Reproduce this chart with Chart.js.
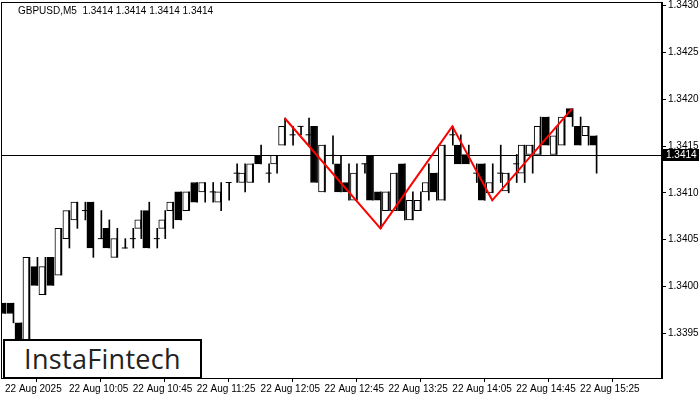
<!DOCTYPE html>
<html><head><meta charset="utf-8">
<script src="https://cdn.jsdelivr.net/npm/chart.js@4"></script>
<style>
html,body{margin:0;padding:0;background:#fff;overflow:hidden;}
#wrap{position:relative;width:700px;height:400px;overflow:hidden;}
#c{position:absolute;left:-4px;top:-6px;}
#logo{position:absolute;left:3px;top:339px;width:195px;height:36px;border:2px solid #000;background:#fff;font-family:"Open Sans",sans-serif;font-size:27px;line-height:36px;text-align:center;color:#222;letter-spacing:0.3px;}
#title{position:absolute;left:18px;top:5px;font:10px "Liberation Sans",sans-serif;color:#000;white-space:pre;}
</style></head><body>
<div id="wrap"><canvas id="c" width="704" height="406"></canvas><div id="logo">InstaFintech</div><div id="title"></div></div>
<script>
const timeLabels=["22 Aug 2025","22 Aug 10:05","22 Aug 10:45","22 Aug 11:25","22 Aug 12:05","22 Aug 12:45","22 Aug 13:25","22 Aug 14:05","22 Aug 14:45","22 Aug 15:25"];
const opens=[1.33982,1.33982,1.33961,1.33932,1.34021,1.33991,1.34031,1.34012,1.34051,1.34071,1.34081,1.34090,1.34051,1.34062,1.34031,1.34041,1.34051,1.34062,1.34081,1.34051,1.34062,1.34081,1.34101,1.34081,1.34111,1.34101,1.34101,1.34090,1.34111,1.34121,1.34111,1.34111,1.34140,1.34121,1.34131,1.34151,1.34162,1.34171,1.34162,1.34171,1.34101,1.34140,1.34131,1.34111,1.34092,1.34131,1.34140,1.34101,1.34081,1.34081,1.34131,1.34071,1.34081,1.34101,1.34121,1.34092,1.34162,1.34151,1.34141,1.34121,1.34131,1.34100,1.34121,1.34102,1.34131,1.34121,1.34141,1.34141,1.34181,1.34141,1.34151,1.34190,1.34171,1.34161,1.34161];
const highs=[1.33982,1.33982,1.33961,1.34031,1.34031,1.34031,1.34031,1.34062,1.34081,1.34090,1.34090,1.34090,1.34081,1.34071,1.34062,1.34051,1.34062,1.34081,1.34090,1.34062,1.34081,1.34090,1.34101,1.34101,1.34111,1.34111,1.34111,1.34111,1.34111,1.34131,1.34131,1.34131,1.34151,1.34131,1.34140,1.34180,1.34171,1.34171,1.34180,1.34171,1.34151,1.34161,1.34140,1.34131,1.34131,1.34131,1.34140,1.34101,1.34101,1.34121,1.34131,1.34101,1.34101,1.34131,1.34121,1.34151,1.34171,1.34162,1.34151,1.34131,1.34131,1.34131,1.34151,1.34121,1.34141,1.34151,1.34151,1.34181,1.34181,1.34171,1.34181,1.34190,1.34181,1.34171,1.34161];
const lows=[1.33971,1.33961,1.33925,1.33925,1.34001,1.33991,1.34001,1.34012,1.34041,1.34062,1.34071,1.34031,1.34051,1.34041,1.34031,1.34041,1.34041,1.34051,1.34041,1.34041,1.34051,1.34062,1.34071,1.34081,1.34090,1.34090,1.34090,1.34081,1.34092,1.34111,1.34101,1.34111,1.34131,1.34111,1.34121,1.34151,1.34151,1.34162,1.34151,1.34111,1.34101,1.34131,1.34101,1.34092,1.34092,1.34121,1.34092,1.34062,1.34081,1.34081,1.34071,1.34071,1.34081,1.34092,1.34092,1.34092,1.34151,1.34131,1.34131,1.34111,1.34092,1.34100,1.34111,1.34100,1.34111,1.34111,1.34121,1.34141,1.34151,1.34141,1.34151,1.34171,1.34151,1.34151,1.34121];
const closes=[1.33971,1.33971,1.33932,1.34031,1.34001,1.34021,1.34001,1.34062,1.34081,1.34090,1.34081,1.34041,1.34051,1.34041,1.34051,1.34041,1.34051,1.34071,1.34041,1.34051,1.34071,1.34090,1.34071,1.34101,1.34090,1.34111,1.34101,1.34101,1.34111,1.34121,1.34121,1.34131,1.34131,1.34121,1.34140,1.34171,1.34162,1.34171,1.34162,1.34111,1.34151,1.34140,1.34101,1.34101,1.34121,1.34131,1.34092,1.34092,1.34101,1.34121,1.34081,1.34092,1.34092,1.34111,1.34101,1.34151,1.34162,1.34131,1.34131,1.34121,1.34092,1.34111,1.34121,1.34121,1.34131,1.34151,1.34151,1.34171,1.34151,1.34161,1.34181,1.34181,1.34151,1.34171,1.34151];
const patternIdx=[35,47,56,61,71];
const patternVals=[1.34180,1.34062,1.34171,1.34092,1.34190];
const yTicks=[1.3395,1.3400,1.3405,1.3410,1.3415,1.3420,1.3425,1.3430];
const currentPrice=1.3414;
const title="GBPUSD,M5  1.3414 1.3414 1.3414 1.3414";
document.getElementById('title').textContent=title;

const wicks=opens.map((o,i)=>({x:i,y:[lows[i],highs[i]]}));
const bodies=opens.map((o,i)=>({x:i,y:[Math.min(o,closes[i]),Math.max(o,closes[i])]}));
const bodyColors=opens.map((o,i)=>closes[i]<o?'#000':'#fff');
const dojis=opens.map((o,i)=>Math.abs(o-closes[i])<0.000005?{x:i,y:o}:null).filter(Boolean);
const pattern=patternIdx.map((x,i)=>({x:x,y:patternVals[i]}));

const extras={id:'extras',
 beforeDatasetsDraw(ch){const {ctx,chartArea:a,scales:{y}}=ch;const py=Math.round(y.getPixelForValue(currentPrice))+0.5;
  ctx.save();ctx.strokeStyle='#000';ctx.lineWidth=1;ctx.beginPath();ctx.moveTo(a.left,py);ctx.lineTo(a.right,py);ctx.stroke();ctx.restore();},
 afterDraw(ch){const {ctx,chartArea:a,scales:{y}}=ch;ctx.save();
  ctx.strokeStyle='#000';ctx.lineWidth=1;ctx.strokeRect(a.left+0.5,a.top+0.5,a.right-a.left-1,a.bottom-a.top);
  const py=Math.round(y.getPixelForValue(currentPrice));
  ctx.fillStyle='#000';ctx.fillRect(a.right,py-6,37,12);
  ctx.fillStyle='#fff';ctx.font='10px "Liberation Sans"';ctx.textBaseline='middle';ctx.fillText(currentPrice.toFixed(4),a.right+4,py);
  ctx.restore();}};

new Chart(document.getElementById('c'),{
 data:{datasets:[
  {type:'line',data:pattern,borderColor:'#ff0000',borderWidth:2,pointRadius:0,tension:0,order:0},
  {type:'scatter',data:dojis,pointStyle:'line',pointRadius:3,borderColor:'#000',borderWidth:1,order:1},
  {type:'bar',data:bodies,backgroundColor:bodyColors,borderColor:'#000',borderWidth:1,borderSkipped:false,barThickness:6,order:2},
  {type:'bar',data:wicks,backgroundColor:'#000',borderWidth:0,barThickness:1,order:3}
 ]},
 options:{responsive:false,animation:false,devicePixelRatio:1,
  layout:{padding:0},
  plugins:{legend:{display:false},tooltip:{enabled:false}},
  scales:{
   x:{type:'linear',min:-0.5,max:82.25,offset:false,grid:{display:true,drawOnChartArea:false,color:'#000',tickLength:4},
    border:{color:'#000'},
    afterBuildTicks:s=>{s.ticks=timeLabels.map((l,i)=>({value:i*8}));},
    afterFit:s=>{s.height=22;},
    ticks:{autoSkip:false,maxRotation:0,align:'start',padding:1,color:'#000',font:{family:'Liberation Sans',size:10},callback:(v,i)=>timeLabels[i]}},
   y:{position:'right',min:1.33902,max:1.34304,grid:{display:true,drawOnChartArea:false,color:'#000',tickLength:4},
    border:{color:'#000'},
    afterBuildTicks:s=>{s.ticks=yTicks.map(v=>({value:v}));},
    afterFit:s=>{s.width=38;},
    ticks:{padding:2,color:'#000',font:{family:'Liberation Sans',size:10},callback:v=>v.toFixed(4)}}
  }},
 plugins:[extras]});
</script></body></html>
